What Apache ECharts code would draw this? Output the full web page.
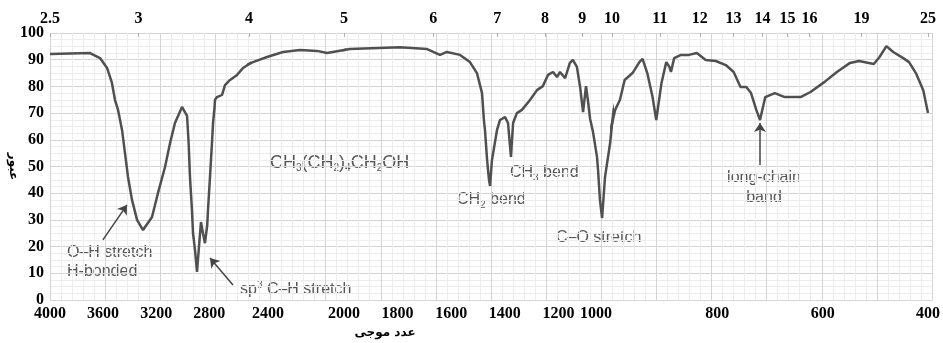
<!DOCTYPE html>
<html>
<head>
<meta charset="utf-8">
<script src="https://cdn.jsdelivr.net/npm/echarts@6/dist/echarts.min.js"></script>
<style>
  html, body { margin: 0; background: #fff; }
  #irChart { width: 943px; height: 343px; }
</style>
</head>
<body>
<div id="irChart"></div>
<script>
// spectrum of 1-hexanol (wavenumber in cm-1, transmittance in %)
const wavenumber = [4000, 3698, 3623, 3570, 3533, 3510, 3487, 3457, 3435, 3412, 3382, 3344, 3299, 3231, 3186, 3133, 3095, 3058, 3005, 2967,
  2955, 2945, 2930, 2922, 2907, 2892, 2877, 2862, 2847, 2832, 2815, 2809, 2794, 2779, 2771, 2760, 2756, 2741, 2703, 2681,
  2643, 2590, 2545, 2479, 2405, 2321, 2232, 2142, 2089, 2000, 1978, 1791, 1690, 1642, 1616, 1567, 1530, 1504, 1485, 1478,
  1474, 1466, 1459, 1455, 1448, 1429, 1418, 1399, 1388, 1377, 1369, 1355, 1336, 1306, 1280, 1258, 1239, 1220, 1205, 1194,
  1175, 1157, 1146, 1131, 1119, 1108, 1097, 1090, 1082, 1071, 1056, 1052, 1045, 1037, 1026, 1007, 1000, 994, 985, 976,
  961, 948, 942, 933, 923, 916, 906, 897, 891, 888, 882, 869, 854, 839, 822, 803, 784, 769, 756, 745,
  736, 726, 719, 709, 691, 672, 642, 623, 597, 573, 548, 531, 503, 492, 479, 466, 447, 436, 423, 409, 400];
const transmittance = [92.1, 92.5, 90.6, 86.9, 81.3, 74.9, 71.2, 63.7, 55.1, 46.1, 37.5, 30.0, 26.2, 31.1, 40.1, 49.8, 58.8, 66.3, 72.3, 69.0,
  58.8, 46.1, 33.7, 25.1, 18.7, 10.5, 20.0, 29.2, 25.0, 21.3, 28.0, 33.7, 46.1, 58.8, 66.3, 72.0, 75.0, 76.0, 76.8, 80.5,
  82.4, 84.3, 86.9, 89.1, 91.0, 92.9, 93.6, 93.3, 92.5, 93.6, 94.0, 94.7, 94.0, 91.8, 92.9, 91.8, 89.1, 85.0, 77.5, 67.4,
  63.7, 52.4, 45.0, 42.7, 52.4, 63.7, 67.4, 68.5, 66.3, 53.6, 66.3, 70.0, 71.2, 74.9, 78.6, 80.1, 84.3, 85.4, 83.5, 85.4,
  83.1, 88.8, 89.9, 87.3, 79.8, 70.4, 80.1, 74.9, 68.0, 63.0, 53.6, 48.6, 37.5, 30.7, 46.1, 58.8, 66.0, 71.2, 74.9, 82.4,
  85.0, 89.1, 90.3, 85.0, 76.0, 67.4, 81.3, 89.1, 87.3, 85.4, 90.6, 91.8, 91.8, 92.5, 89.9, 89.5, 88.0, 85.4, 79.8, 79.8,
  77.5, 71.2, 67.4, 76.0, 77.5, 76.0, 76.0, 77.9, 81.6, 85.4, 88.8, 89.5, 88.4, 91.0, 95.1, 92.9, 90.6, 89.1, 85.0, 78.6, 70.0];

const wavenumberTicks = [4000, 3600, 3200, 2800, 2400, 2000, 1800, 1600, 1400, 1200, 1000, 800, 600, 400];
const wavelengthTicks = [2.5, 3, 4, 5, 6, 7, 8, 9, 10, 11, 12, 13, 14, 15, 16, 19, 25];

const spectrum = wavenumber.map((w, i) => [w, transmittance[i]]);

// the paper scale changes pitch, so every stretch gets its own linear grid
const segments = [
  {from: 4000, to: 2500, left: 50, width: 199},
  {from: 2500, to: 2000, left: 249, width: 95},
  {from: 2000, to: 1000, left: 344, width: 268},
  {from: 1000, to: 400, left: 612, width: 320}
];
const plotTop = 33, plotHeight = 267;

function inSegment(v, i) {
  const s = segments[i];
  return v <= s.from + 1e-6 && (v > s.to + 1e-6 || i === segments.length - 1);
}

const serifLabel = {fontFamily: 'Liberation Serif', fontWeight: 'bold', fontSize: 16, color: '#000'};
const noteFont = 'Liberation Sans';
const noteColor = '#555';

let grids = [{left: 50, top: plotTop, width: 882, height: plotHeight}];
let xAxes = [{
  gridIndex: 0, type: 'value', min: 0, max: 16, interval: 1,
  axisLine: {show: false}, axisTick: {show: false}, axisLabel: {show: false},
  splitLine: {show: true, lineStyle: {color: '#d4d4d4', width: 1}},
  minorTick: {show: false, splitNumber: 5},
  minorSplitLine: {show: true, lineStyle: {color: '#ededed', width: 1}}
}];
let yAxes = [{
  gridIndex: 0, type: 'value', min: 0, max: 100, interval: 10,
  axisLine: {show: false}, axisTick: {show: false}, axisLabel: {show: false},
  splitLine: {show: true, lineStyle: {color: '#d4d4d4', width: 1}},
  minorTick: {show: false, splitNumber: 4},
  minorSplitLine: {show: true, lineStyle: {color: '#ededed', width: 1}}
}];
let series = [];

segments.forEach((s, i) => {
  grids.push({left: s.left, top: plotTop, width: s.width, height: plotHeight});
  const gi = i + 1;
  // bottom: wavenumber
  xAxes.push({
    gridIndex: gi, type: 'value', position: 'bottom', inverse: true,
    min: s.to, max: s.from,
    axisLine: {show: false},
    axisTick: {show: false},
    splitLine: {show: false},
    axisLabel: Object.assign({}, serifLabel, {
      margin: 6,
      customValues: wavenumberTicks.filter(v => inSegment(v, i)),
      showMinLabel: true, showMaxLabel: true,
      alignMinLabel: i === segments.length - 1 ? 'right' : 'center',
      formatter: v => String(v)
    })
  });
  // top: wavelength in micrometres
  const topValues = wavelengthTicks.map(w => 10000 / w).filter(v => inSegment(v, i));
  xAxes.push({
    gridIndex: gi, type: 'value', position: 'top', inverse: true,
    min: s.to, max: s.from,
    axisLine: {show: false},
    axisTick: {show: true, inside: true, length: 4, customValues: topValues, lineStyle: {color: '#b0b0b0'}},
    splitLine: {show: false},
    axisLabel: Object.assign({}, serifLabel, {
      margin: 6,
      customValues: topValues,
      showMinLabel: true, showMaxLabel: true,
      formatter: v => String(+(10000 / v).toFixed(1))
    })
  });
  yAxes.push({
    gridIndex: gi, type: 'value', min: 0, max: 100, interval: 10,
    axisLine: {show: false}, axisTick: {show: false}, splitLine: {show: false},
    axisLabel: Object.assign({}, serifLabel, {show: i === 0, margin: 6}),
    name: i === 0 ? 'عبور' : '',
    nameLocation: 'middle', nameGap: 31, nameRotate: -90, nameMoveOverlap: false,
    nameTextStyle: {fontFamily: 'DejaVu Sans', fontWeight: 'bold', fontSize: 12, color: '#000'}
  });
  series.push({
    type: 'line',
    xAxisIndex: 2 * i + 1,
    yAxisIndex: gi,
    data: spectrum,
    symbol: 'none',
    clip: true,
    silent: true,
    lineStyle: {color: '#505050', width: 2.5}
  });
});

const arrowStyle = {
  silent: true,
  symbol: ['none', 'arrow'],
  symbolSize: 9,
  label: {show: false},
  lineStyle: {color: '#444', width: 1.5, type: 'solid'}
};
series[0].markLine = Object.assign({}, arrowStyle, {
  data: [
    [{coord: [3601, 22.5]}, {coord: [3420, 35.6]}],
    [{coord: [2621, 5.6], lineStyle: {curveness: 0.25}}, {coord: [2794, 15.7]}]
  ]
});
series[3].markLine = Object.assign({}, arrowStyle, {
  data: [[{coord: [719, 50.6]}, {coord: [719, 66.3]}]]
});

function note(text, x, y, align, size) {
  return {
    type: 'text', x: x, y: y, silent: true,
    style: {
      text: text, fill: noteColor, textAlign: align || 'left', textVerticalAlign: 'middle',
      font: (size || 16) + 'px "' + noteFont + '"',
      rich: {
        n: {fontFamily: noteFont, fontSize: size || 16, color: noteColor, lineHeight: 20},
        sub: {fontFamily: noteFont, fontSize: 10, color: noteColor, lineHeight: 10, verticalAlign: 'bottom'},
        sup: {fontFamily: noteFont, fontSize: 10, color: noteColor, lineHeight: 10, verticalAlign: 'top'}
      }
    }
  };
}

const option = {
  animation: false,
  backgroundColor: '#fff',
  grid: grids,
  xAxis: xAxes,
  yAxis: yAxes,
  series: series,
  graphic: [
    note('{n|CH}{sub|3}{n|(CH}{sub|2}{n|)}{sub|4}{n|CH}{sub|2}{n|OH}', 270, 163, 'left', 18),
    note('O–H stretch', 67, 253),
    note('H-bonded', 67, 272),
    note('{n|sp}{sup|3}{n| C–H stretch}', 240, 290),
    note('{n|CH}{sub|2}{n| bend}', 457, 200),
    note('{n|CH}{sub|3}{n| bend}', 510, 173),
    note('C–O stretch', 556, 238),
    note('long-chain', 764, 178, 'center'),
    note('band', 764, 198, 'center'),
    {
      type: 'text', x: 385, y: 333, silent: true,
      style: {text: 'عدد موجی', fill: '#000', textAlign: 'center', textVerticalAlign: 'middle',
        font: 'bold 12px "DejaVu Sans"'}
    }
  ]
};

const irChart = echarts.init(document.getElementById('irChart'), null, {width: 943, height: 343});
irChart.setOption(option);
</script>
</body>
</html>
